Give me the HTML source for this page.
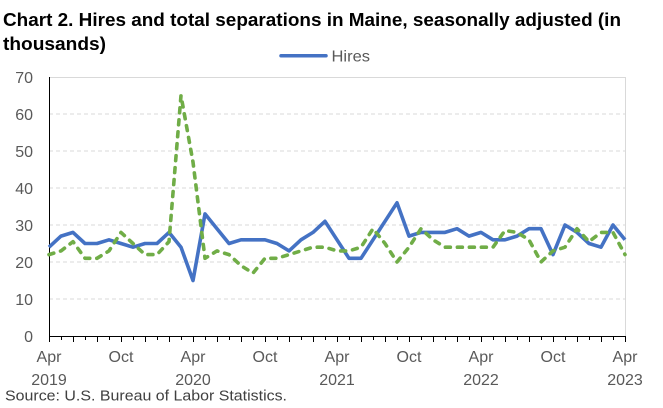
<!DOCTYPE html>
<html>
<head>
<meta charset="utf-8">
<style>
  html, body { margin:0; padding:0; background:#fff; }
  svg { display:block; }
  text { font-family: "Liberation Sans", sans-serif; }
</style>
</head>
<body>
<svg width="663" height="408" viewBox="0 0 663 408" xmlns="http://www.w3.org/2000/svg">
  <rect x="0" y="0" width="663" height="408" fill="#fff"/>
  <!-- Title -->
  <text x="3" y="26" font-size="18.5" font-weight="bold" fill="#000" textLength="618" lengthAdjust="spacingAndGlyphs">Chart 2. Hires and total separations in Maine, seasonally adjusted (in</text>
  <text x="3" y="50" font-size="18.5" font-weight="bold" fill="#000" textLength="103" lengthAdjust="spacingAndGlyphs">thousands)</text>

  <!-- Legend -->
  <line x1="281" y1="55.7" x2="326" y2="55.7" stroke="#4472C4" stroke-width="3.5" stroke-linecap="round"/>
  <text x="331.5" y="61.5" font-size="16" fill="#595959" textLength="38.5" lengthAdjust="spacingAndGlyphs">Hires</text>

  <!-- Gridlines -->
  <g stroke="#d9d9d9" stroke-width="1" stroke-dasharray="4 3">
    <line x1="49" y1="299" x2="625" y2="299"/>
    <line x1="49" y1="262" x2="625" y2="262"/>
    <line x1="49" y1="225" x2="625" y2="225"/>
    <line x1="49" y1="188" x2="625" y2="188"/>
    <line x1="49" y1="151" x2="625" y2="151"/>
    <line x1="49" y1="114" x2="625" y2="114"/>
  </g>
  <!-- plot border top/right -->
  <line x1="49" y1="77.5" x2="625.5" y2="77.5" stroke="#d9d9d9" stroke-width="1"/>
  <line x1="625.5" y1="77" x2="625.5" y2="336" stroke="#d9d9d9" stroke-width="1"/>

  <!-- Y axis labels -->
  <g font-size="16" fill="#595959" text-anchor="end">
    <text x="33" y="342">0</text>
    <text x="33" y="305">10</text>
    <text x="33" y="268">20</text>
    <text x="33" y="231">30</text>
    <text x="33" y="194">40</text>
    <text x="33" y="157">50</text>
    <text x="33" y="120">60</text>
    <text x="33" y="83">70</text>
  </g>

  <!-- Axes -->
  <line x1="49.5" y1="77" x2="49.5" y2="336.5" stroke="#000" stroke-width="1"/>
  <line x1="49" y1="336.5" x2="626" y2="336.5" stroke="#000" stroke-width="1"/>
  <!-- ticks -->
  <g stroke="#000" stroke-width="1">
    <path d="M49.5 336v6 M61.5 336v4 M73.5 336v6 M85.5 336v4 M97.5 336v6 M109.5 336v4 M121.5 336v6 M133.5 336v4 M145.5 336v6 M157.5 336v4 M169.5 336v6 M181.5 336v4 M193.5 336v6 M205.5 336v4 M217.5 336v6 M229.5 336v4 M241.5 336v6 M253.5 336v4 M265.5 336v6 M277.5 336v4 M289.5 336v6 M301.5 336v4 M313.5 336v6 M325.5 336v4 M337.5 336v6 M349.5 336v4 M361.5 336v6 M373.5 336v4 M385.5 336v6 M397.5 336v4 M409.5 336v6 M421.5 336v4 M433.5 336v6 M445.5 336v4 M457.5 336v6 M469.5 336v4 M481.5 336v6 M493.5 336v4 M505.5 336v6 M517.5 336v4 M529.5 336v6 M541.5 336v4 M553.5 336v6 M565.5 336v4 M577.5 336v6 M589.5 336v4 M601.5 336v6 M613.5 336v4 M625.5 336v6"/>
  </g>

  <!-- X axis labels -->
  <g font-size="16" fill="#595959" text-anchor="middle">
    <text x="49" y="362">Apr</text>
    <text x="121" y="362">Oct</text>
    <text x="193" y="362">Apr</text>
    <text x="265" y="362">Oct</text>
    <text x="337" y="362">Apr</text>
    <text x="409" y="362">Oct</text>
    <text x="481" y="362">Apr</text>
    <text x="553" y="362">Oct</text>
    <text x="625" y="362">Apr</text>
    <text x="49" y="385">2019</text>
    <text x="193" y="385">2020</text>
    <text x="337" y="385">2021</text>
    <text x="481" y="385">2022</text>
    <text x="625" y="385">2023</text>
  </g>

  <!-- Source -->
  <text x="5" y="400.5" font-size="14.5" fill="#404040" textLength="282" lengthAdjust="spacingAndGlyphs">Source: U.S. Bureau of Labor Statistics.</text>

  <!-- Hires -->
  <polyline fill="none" stroke="#4472C4" stroke-width="3.6" stroke-linejoin="round" stroke-linecap="butt"
    points="49,247.2 61,236.1 73,232.4 85,243.5 97,243.5 109,239.8 121,243.5 133,247.2 145,243.5 157,243.5 169,232.4 181,247.2 193,280.5 205,213.9 217,228.7 229,243.5 241,239.8 253,239.8 265,239.8 277,243.5 289,250.9 301,239.8 313,232.4 325,221.3 337,239.8 349,258.3 361,258.3 373,239.8 385,221.3 397,202.8 409,236.1 421,232.4 433,232.4 445,232.4 457,228.7 469,236.1 481,232.4 493,239.8 505,239.8 517,236.1 529,228.7 541,228.7 553,254.6 565,225 577,232.4 589,243.5 601,247.2 613,225 625,239.8"/>

  <!-- Total separations -->
  <polyline fill="none" stroke="#70AD47" stroke-width="3.6" stroke-linejoin="round" stroke-linecap="round" stroke-dasharray="5 7"
    points="49,254.6 61,250.9 73,241.65 85,258.3 97,258.3 109,250.9 121,232.4 133,243.5 145,254.6 157,254.6 169,241.65 181,95.5 193,162.1 205,258.3 217,250.9 229,254.6 241,265.7 253,273.1 265,258.3 277,258.3 289,254.6 301,250.9 313,247.2 325,247.2 337,250.9 349,250.9 361,247.2 373,228.7 385,243.5 397,262 409,247.2 421,228.7 433,239.8 445,247.2 457,247.2 469,247.2 481,247.2 493,247.2 505,230.55 517,232.4 529,239.8 541,262 553,250.9 565,247.2 577,228.7 589,241.65 601,232.4 613,232.4 625,254.6"/>
</svg>
</body>
</html>
